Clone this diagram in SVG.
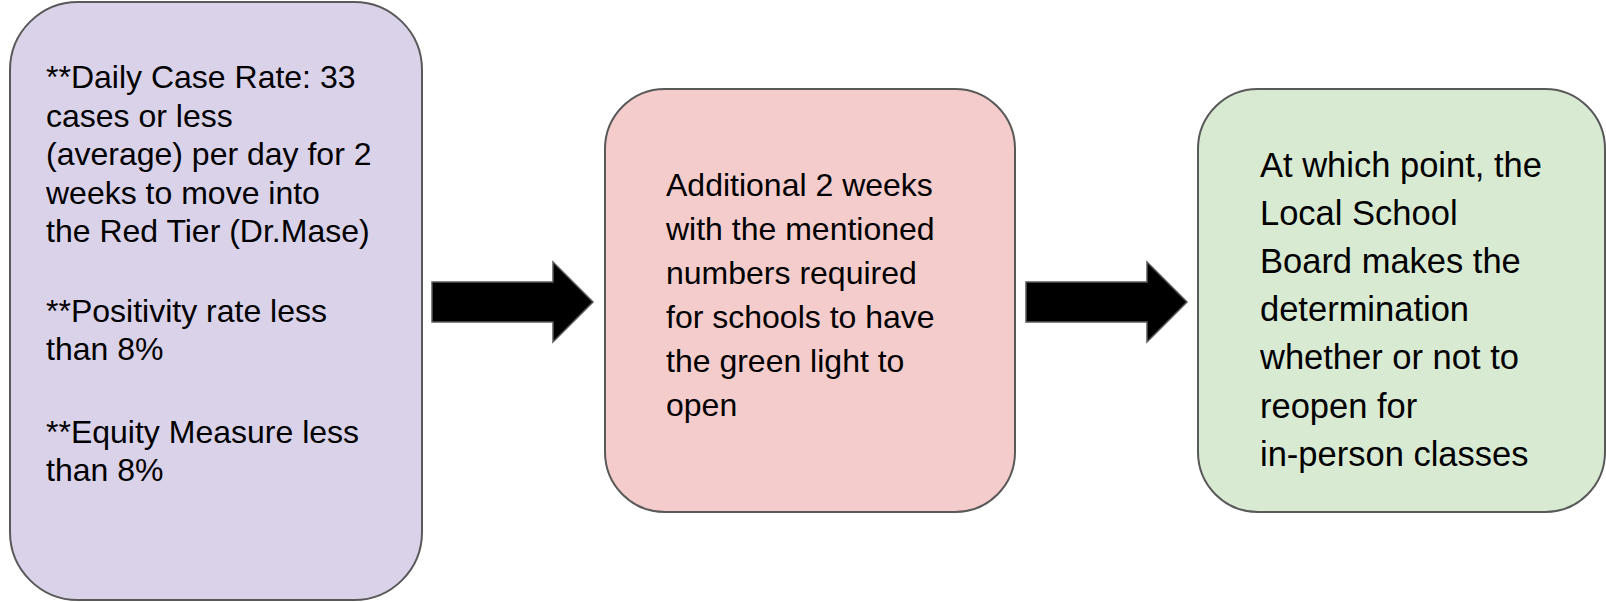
<svg xmlns="http://www.w3.org/2000/svg" width="1606" height="602" viewBox="0 0 1606 602">
<style>
.box{stroke:#595959;stroke-width:2}
.t{font-family:"Liberation Sans",Arial,sans-serif;fill:#000}
.arrow{fill:#000;stroke:#595959;stroke-width:1.5;stroke-linejoin:miter}
</style>
<rect width="1606" height="602" fill="#fff"/>
<g id="node1">
<rect class="box" x="10" y="2" width="412" height="598" rx="68" ry="68" fill="#d9d2e9"/>
<text class="t" font-size="32">
<tspan x="46" y="88.3">**Daily Case Rate: 33</tspan>
<tspan x="46" y="126.7">cases or less</tspan>
<tspan x="46" y="165.1">(average) per day for 2</tspan>
<tspan x="46" y="203.5">weeks to move into</tspan>
<tspan x="46" y="241.9">the Red Tier (Dr.Mase)</tspan>
<tspan x="46" y="322">**Positivity rate less</tspan>
<tspan x="46" y="360.4">than 8%</tspan>
<tspan x="46" y="443">**Equity Measure less</tspan>
<tspan x="46" y="481.4">than 8%</tspan>
</text>
</g>
<g id="node2">
<rect class="box" x="605" y="89" width="410" height="423" rx="60" ry="60" fill="#f4cccc"/>
<text class="t" font-size="32">
<tspan x="666" y="196">Additional 2 weeks</tspan>
<tspan x="666" y="240">with the mentioned</tspan>
<tspan x="666" y="284">numbers required</tspan>
<tspan x="666" y="328">for schools to have</tspan>
<tspan x="666" y="372">the green light to</tspan>
<tspan x="666" y="416">open</tspan>
</text>
</g>
<g id="node3">
<rect class="box" x="1198" y="89" width="407" height="423" rx="60" ry="60" fill="#d9ead3"/>
<text class="t" font-size="34.5">
<tspan x="1260" y="177">At which point, the</tspan>
<tspan x="1260" y="225.1">Local School</tspan>
<tspan x="1260" y="273.2">Board makes the</tspan>
<tspan x="1260" y="321.3">determination</tspan>
<tspan x="1260" y="369.4">whether or not to</tspan>
<tspan x="1260" y="417.5">reopen for</tspan>
<tspan x="1260" y="465.6">in-person classes</tspan>
</text>
</g>
<g id="connectors">
<polygon class="arrow" points="432,282 553,282 553,262 593,302 553,342 553,322 432,322"/>
<polygon class="arrow" points="1026,282 1147,282 1147,262 1187,302 1147,342 1147,322 1026,322"/>
</g>
</svg>
